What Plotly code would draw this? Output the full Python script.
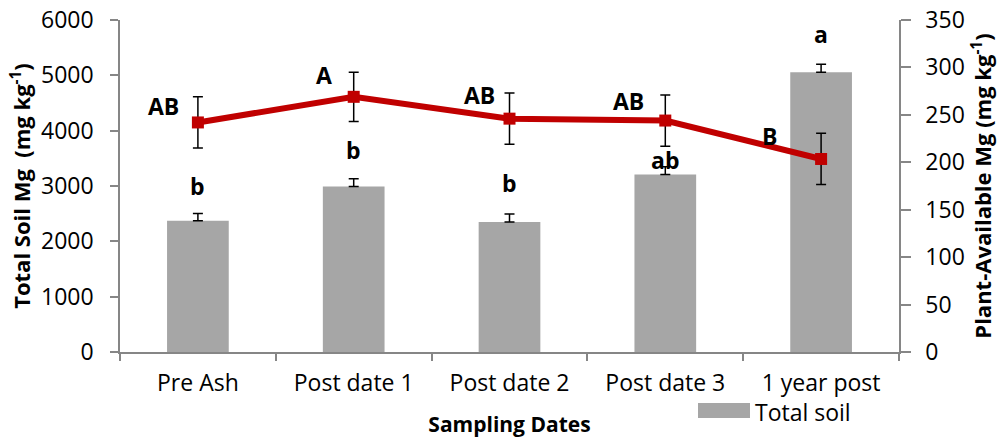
import plotly.graph_objects as go

categories = ["Pre Ash", "Post date 1", "Post date 2", "Post date 3", "1 year post"]
total_soil = [2370, 2990, 2350, 3210, 5055]
total_soil_err = [135, 140, 145, 140, 145]
plant_avail = [242, 269, 246, 244, 203.5]
plant_avail_err = [27, 26, 27, 27, 27]
bar_letters = ["b", "b", "b", "ab", "a"]
line_letters = ["AB", "A", "AB", "AB", "B"]

# label offsets (px) - styling
bar_lab_dy = [27, 29, 31, 7, 30]
line_lab_dx = [-34, -30, -30, -37, -52]
line_lab_dy = [16, 22, 24, 20, 23]

FONT = "Open Sans, Noto Sans, sans-serif"
AX = "#868686"

fig = go.Figure()
fig.add_trace(go.Bar(
    x=categories, y=total_soil, name="Total soil",
    marker=dict(color="#a6a6a6", line=dict(width=0)),
    width=0.396,
    error_y=dict(type="data", symmetric=False, array=total_soil_err,
                 arrayminus=[0] * len(total_soil_err),
                 color="black", thickness=1.5, width=5),
    showlegend=False,
))
fig.add_trace(go.Scatter(
    x=categories, y=plant_avail, name="Plant-available", yaxis="y2",
    mode="lines+markers",
    line=dict(color="#c00000", width=6),
    marker=dict(color="#c00000", size=12, symbol="square"),
    error_y=dict(type="data", array=plant_avail_err, color="black",
                 thickness=1.5, width=5),
    showlegend=False,
))

ann = []
for c, v, e, t, dy in zip(categories, total_soil, total_soil_err, bar_letters, bar_lab_dy):
    ann.append(dict(x=c, y=v + e, xref="x", yref="y", text=f"<b>{t}</b>",
                    showarrow=False, yshift=dy, font=dict(size=23, color="black", family=FONT)))
for c, v, t, dx, dy in zip(categories, plant_avail, line_letters, line_lab_dx, line_lab_dy):
    ann.append(dict(x=c, y=v, xref="x", yref="y2", text=f"<b>{t}</b>",
                    showarrow=False, xshift=dx, yshift=dy, font=dict(size=23, color="black", family=FONT)))

pw = 1003 - 120 - 104
ph = 438 - 20 - 86
def px2paper_x(px): return (px - 120) / pw
def px2paper_y(py): return (438 - 86 - py) / ph

# legend (manual)
ann.append(dict(x=px2paper_x(753), y=px2paper_y(412), xref="paper", yref="paper", text="Total soil",
                showarrow=False, xanchor="left", yanchor="middle",
                font=dict(size=23, color="black", family=FONT)))

fig.update_layout(
    width=1003, height=438,
    margin=dict(l=120, r=104, t=20, b=86),
    paper_bgcolor="white", plot_bgcolor="white",
    font=dict(family=FONT, size=23, color="black"),
    xaxis=dict(
        automargin=False,
        showline=True, linecolor=AX, linewidth=1.5,
        ticks="outside", tickson="boundaries", ticklen=7, tickcolor=AX, tickwidth=1.5,
        ticklabelstandoff=10,
        tickfont=dict(size=23, family=FONT),
        title=dict(text="<b>Sampling Dates</b>", font=dict(size=21, family=FONT), standoff=22),
    ),
    yaxis=dict(
        automargin=False,
        range=[0, 6000], dtick=1000, showgrid=False, zeroline=False,
        showline=True, linecolor=AX, linewidth=1.5,
        ticks="outside", ticklen=8, tickcolor=AX, tickwidth=1.5,
        ticklabelstandoff=12,
        tickfont=dict(size=23, family=FONT),
        title=dict(text="<b>Total Soil Mg  (mg kg<sup>-1</sup>)</b>", font=dict(size=22, family=FONT), standoff=4),
    ),
    yaxis2=dict(
        automargin=False,
        range=[0, 350], dtick=50, overlaying="y", side="right", showgrid=False, zeroline=False,
        showline=True, linecolor=AX, linewidth=1.5,
        ticks="outside", ticklen=10, tickcolor=AX, tickwidth=1.5,
        ticklabelstandoff=10,
        tickfont=dict(size=23, family=FONT),
        title=dict(text="<b>Plant-Available Mg (mg kg<sup>-1</sup>)</b>", font=dict(size=22, family=FONT), standoff=12),
    ),
    annotations=ann,
    shapes=[dict(type="rect", xref="paper", yref="paper",
                 x0=px2paper_x(698), x1=px2paper_x(750),
                 y0=px2paper_y(418), y1=px2paper_y(403),
                 fillcolor="#a6a6a6", line=dict(width=0))],
)

fig.write_html("out.html")
